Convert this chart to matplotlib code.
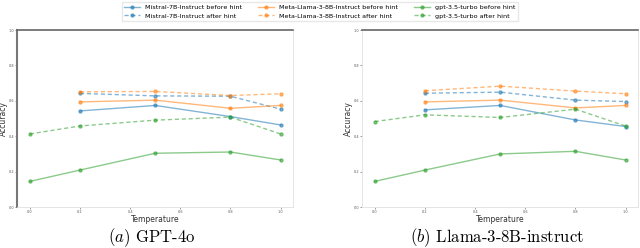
import matplotlib
matplotlib.use("Agg")
import matplotlib.pyplot as plt

temps_gpt = [0.0, 0.2, 0.5, 0.8, 1.0]
temps_other = [0.2, 0.5, 0.8, 1.0]
x_ticks = [0.0, 0.2, 0.4, 0.6, 0.8, 1.0]
y_ticks = [0.0, 0.2, 0.4, 0.6, 0.8, 1.0]

# Panel (a) GPT-4o
a_mistral_before = [0.543, 0.574, 0.511, 0.464]
a_mistral_after = [0.642, 0.628, 0.626, 0.553]
a_llama_before = [0.594, 0.604, 0.558, 0.574]
a_llama_after = [0.651, 0.653, 0.630, 0.640]
a_gpt_before = [0.145, 0.209, 0.304, 0.311, 0.266]
a_gpt_after = [0.413, 0.458, 0.491, 0.508, 0.413]

# Panel (b) Llama-3-8B-instruct
b_mistral_before = [0.549, 0.574, 0.492, 0.455]
b_mistral_after = [0.643, 0.649, 0.604, 0.596]
b_llama_before = [0.594, 0.604, 0.560, 0.574]
b_llama_after = [0.657, 0.683, 0.655, 0.640]
b_gpt_before = [0.145, 0.209, 0.300, 0.315, 0.266]
b_gpt_after = [0.483, 0.521, 0.506, 0.553, 0.458]

captions = ["(a)", "(b)"]
caption_names = ["GPT-4o", "Llama-3-8B-instruct"]
labels = ["Mistral-7B-Instruct before hint", "Mistral-7B-Instruct after hint",
          "Meta-Llama-3-8B-Instruct before hint", "Meta-Llama-3-8B-Instruct after hint",
          "gpt-3.5-turbo before hint", "gpt-3.5-turbo after hint"]

plt.rcParams['mathtext.fontset'] = 'cm'
fig = plt.figure(figsize=(6.4, 2.48), dpi=100)

panels = [
    (a_mistral_before, a_mistral_after, a_llama_before, a_llama_after, a_gpt_before, a_gpt_after),
    (b_mistral_before, b_mistral_after, b_llama_before, b_llama_after, b_gpt_before, b_gpt_after),
]
rects = [[0.027, 0.165, 0.431, 0.714], [0.566, 0.165, 0.431, 0.714]]
colors = ["#1f77b4", "#ff7f0e", "#2ca02c"]

handles = None
for i, (data, rect) in enumerate(zip(panels, rects)):
    ax = fig.add_axes(rect)
    mb, ma, lb, la, gb, ga = data
    series = [(temps_other, mb, colors[0], '-'), (temps_other, ma, colors[0], (0, (3, 2))),
              (temps_other, lb, colors[1], '-'), (temps_other, la, colors[1], (0, (3, 2))),
              (temps_gpt, gb, colors[2], '-'), (temps_gpt, ga, colors[2], (0, (3, 2)))]
    hs = []
    for (xs, ys, c, ls), lab in zip(series, labels):
        h, = ax.plot(xs, ys, color=c, linestyle=ls, linewidth=1.0, alpha=0.55,
                     marker='o', markersize=2.2, markerfacecolor=c, markeredgecolor=c,
                     label=lab)
        hs.append(h)
    handles = hs
    ax.set_xlim(-0.05, 1.05)
    ax.set_ylim(0.0, 1.0)
    ax.set_xticks(x_ticks)
    ax.set_yticks(y_ticks)
    ax.set_xticklabels([f"{v:.1f}" for v in x_ticks])
    ax.set_yticklabels([f"{v:.1f}" for v in y_ticks])
    ax.tick_params(labelsize=2.5, length=1.5, width=0.4, pad=0.8, colors='#555555')
    ax.set_xlabel("Temperature", fontsize=5.5, labelpad=0, color='#333333')
    ax.set_ylabel("Accuracy", fontsize=5.5, color='#333333')
    ax.yaxis.set_label_coords(-0.033, 0.5)
    ax.xaxis.set_label_coords(0.5, -0.045)
    for s in ax.spines.values():
        s.set_color('#e0e0e0')
        s.set_linewidth(0.6)
    ax.spines['top'].set_color('#666666')
    ax.spines['top'].set_linewidth(1.2)
    if i == 0:
        ax.spines['left'].set_color('#777777')
        ax.spines['left'].set_linewidth(1.5)
    cx = rect[0] + rect[2] / 2 - 0.005
    fig.text(cx, 0.042, f"${captions[i]}$ {caption_names[i]}", ha='center', va='center',
             fontsize=12, family='cmr10')

fig.legend(handles, labels, loc='upper center', bbox_to_anchor=(0.5, 1.005), ncol=3,
           fontsize=4.6, frameon=True, framealpha=1.0, edgecolor='#e8e8e8',
           handlelength=2.5, columnspacing=2.5, borderpad=0.4, labelspacing=0.5,
           fancybox=False)

fig.savefig("out.png", dpi=100)
